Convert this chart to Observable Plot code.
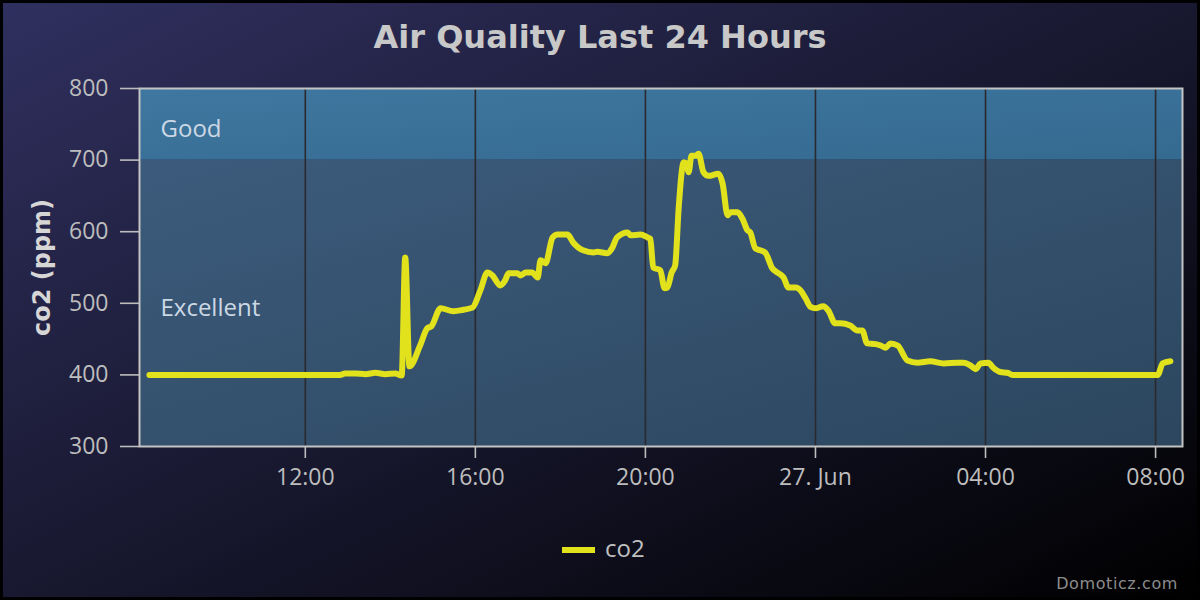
<!DOCTYPE html>
<html>
<head>
<meta charset="utf-8">
<script src="https://cdn.jsdelivr.net/npm/d3@7"></script>
<script src="https://cdn.jsdelivr.net/npm/@observablehq/plot@0.6"></script>
<style>
  html, body { margin: 0; padding: 0; background: #000; }
  #chart {
    position: relative; width: 1200px; height: 600px; overflow: hidden;
    background: linear-gradient(to bottom right, rgb(48,48,96), rgb(0,0,0));
    box-shadow: inset 0 0 0 3px #000;
  }
  #title {
    position: absolute; left: 0; top: 17px; width: 1200px; height: 40px; line-height: 40px;
    text-align: center; font-family: "DejaVu Sans", sans-serif; font-weight: bold; font-size: 32px;
    color: #c8c8c8;
  }
  #plot { position: absolute; left: 0; top: 70px; }
  #legend {
    position: absolute; left: 562px; top: 530px; height: 36px; line-height: 36px;
    font-family: "Open Sans", sans-serif; font-size: 24px; color: #c0c0c0; white-space: nowrap;
  }
  #legend .sw { display: inline-block; width: 33px; height: 6px; vertical-align: middle; margin-right: 10px; position: relative; top: -1px; }
  #credit {
    position: absolute; right: 22px; top: 572px; height: 24px; line-height: 24px;
    font-family: "DejaVu Sans", sans-serif; font-size: 16px; letter-spacing: 0.6px; color: #8c8c8c;
  }
</style>
</head>
<body>
<div id="chart">
  <div id="title"></div>
  <div id="plot"></div>
  <div id="legend"></div>
  <div id="credit"></div>
</div>
<script>
// ---- data ----
const titleText = "Air Quality Last 24 Hours";
const yLabel = "co2 (ppm)";
const seriesName = "co2";
const creditText = "Domoticz.com";
const lineColor = "#e1e11c";

const times = ["06-26 08:20","06-26 12:49","06-26 12:56","06-26 13:11","06-26 13:25","06-26 13:39","06-26 13:53","06-26 14:07","06-26 14:16","06-26 14:21","06-26 14:27","06-26 14:42","06-26 14:52","06-26 14:58","06-26 15:11","06-26 15:29","06-26 15:43","06-26 15:56","06-26 16:07","06-26 16:17","06-26 16:24","06-26 16:35","06-26 16:42","06-26 16:47","06-26 16:59","06-26 17:04","06-26 17:11","06-26 17:20","06-26 17:28","06-26 17:32","06-26 17:39","06-26 17:49","06-26 17:56","06-26 18:10","06-26 18:18","06-26 18:32","06-26 18:47","06-26 18:52","06-26 19:06","06-26 19:13","06-26 19:20","06-26 19:35","06-26 19:39","06-26 19:53","06-26 20:03","06-26 20:07","06-26 20:11","06-26 20:21","06-26 20:27","06-26 20:31","06-26 20:37","06-26 20:42","06-26 20:47","06-26 20:54","06-26 20:58","06-26 21:01","06-26 21:05","06-26 21:11","06-26 21:15","06-26 21:22","06-26 21:29","06-26 21:43","06-26 21:49","06-26 21:56","06-26 22:00","06-26 22:10","06-26 22:17","06-26 22:24","06-26 22:28","06-26 22:35","06-26 22:42","06-26 22:49","06-26 22:59","06-26 23:08","06-26 23:15","06-26 23:22","06-26 23:32","06-26 23:39","06-26 23:46","06-26 23:53","06-27 00:00","06-27 00:11","06-27 00:18","06-27 00:28","06-27 00:35","06-27 00:49","06-27 00:59","06-27 01:06","06-27 01:13","06-27 01:25","06-27 01:32","06-27 01:39","06-27 01:46","06-27 01:56","06-27 02:10","06-27 02:24","06-27 02:42","06-27 03:01","06-27 03:20","06-27 03:29","06-27 03:39","06-27 03:46","06-27 03:53","06-27 04:04","06-27 04:11","06-27 04:21","06-27 04:31","06-27 04:38","06-27 08:03","06-27 08:10","06-27 08:21"];
const co2 = [400,400,402,402,401,403,401,402,399,564,412,441,465,468,493,489,491,494,518,543,539,525,532,542,542,539,543,543,536,560,556,592,596,596,585,574,571,572,570,577,592,599,595,596,592,590,550,546,521,522,543,553,634,697,695,683,706,706,709,683,678,681,667,623,627,627,618,602,599,577,574,571,549,542,536,522,522,518,507,495,493,496,490,472,472,469,462,462,444,443,441,438,444,441,420,417,419,416,417,417,413,408,416,417,410,404,403,400,400,416,419];

const xDomainTimes = ["06-26 08:06","06-27 08:38"];
const xTickTimes = ["06-26 12:00","06-26 16:00","06-26 20:00","06-27 00:00","06-27 04:00","06-27 08:00"];
const xTickLabels = ["12:00","16:00","20:00","27. Jun","04:00","08:00"];
const yTicks = [300,400,500,600,700,800];
const yDomain = [300,800];

const bandNames = ["Excellent","Good"];
const bandLow = [300,700];
const bandHigh = [700,800];

// ---- build ----
const parse = d3.timeParse("%Y-%m-%d %H:%M");
const toDate = s => parse("2023-" + s);
const series = times.map((t,i) => ({t: toDate(t), v: co2[i]}));
const tickDates = xTickTimes.map(toDate);
const tickLabelMap = new Map(tickDates.map((d,i) => [+d, xTickLabels[i]]));
const bands = bandNames.map((n,i) => ({name: n, lo: bandLow[i], hi: bandHigh[i]}));

document.getElementById("title").textContent = titleText;
document.getElementById("credit").textContent = creditText;
const leg = document.getElementById("legend");
leg.innerHTML = `<span class="sw" style="background:${lineColor}"></span>`;
leg.appendChild(document.createTextNode(seriesName));

const svg = Plot.plot({
  width: 1200, height: 430,
  marginLeft: 139, marginRight: 18, marginTop: 18, marginBottom: 54,
  style: {background: "transparent", fontFamily: "Open Sans, sans-serif", fontSize: "23px", color: "#bdbdbd", overflow: "visible"},
  x: {type: "time", domain: xDomainTimes.map(toDate)},
  y: {domain: yDomain},
  marks: [
    Plot.rect([bands[0]], {y1: "lo", y2: "hi", fill: "url(#gExc)"}),
    Plot.rect([bands[1]], {y1: "lo", y2: "hi", fill: "url(#gGood)"}),
    Plot.ruleX(tickDates, {stroke: "#2a2a2e", strokeWidth: 1.6}),
    Plot.text(bands, {y: d => (d.lo + d.hi) / 2, text: "name", frameAnchor: "left", dx: 21, dy: 5, textAnchor: "start", fill: "#ccd8e4", fontSize: 24}),
    Plot.axisY({ticks: yTicks, tickSize: 19, tickPadding: 12, label: null, color: "#bdbdbd", fontSize: 23, strokeWidth: 1.6}),
    Plot.axisX({ticks: tickDates, tickFormat: d => tickLabelMap.get(+d), tickSize: 12, tickPadding: 10, label: null, color: "#bdbdbd", fontSize: 23, strokeWidth: 1.6}),
    Plot.frame({stroke: "#c4c4c4", strokeWidth: 2}),
    Plot.line(series, {x: "t", y: "v", stroke: lineColor, strokeWidth: 6, curve: "monotone-x", strokeLinejoin: "round", strokeLinecap: "round"}),
    Plot.text([yLabel], {frameAnchor: "left", dx: -97, rotate: -90, textAnchor: "middle", fontWeight: "bold", fontSize: 24, fontFamily: "DejaVu Sans, sans-serif", fill: "#d6d6d6"})
  ]
});

const defs = d3.select(svg).insert("defs", ":first-child");
const g1 = defs.append("linearGradient").attr("id", "gExc").attr("x1", 0).attr("y1", 0).attr("x2", 1).attr("y2", 1);
g1.append("stop").attr("offset", 0).attr("stop-color", "#3c5b7c");
g1.append("stop").attr("offset", 1).attr("stop-color", "#2c465e");
const g2 = defs.append("linearGradient").attr("id", "gGood").attr("x1", 0).attr("y1", 0).attr("x2", 1).attr("y2", 1);
g2.append("stop").attr("offset", 0).attr("stop-color", "#3f77a0");
g2.append("stop").attr("offset", 1).attr("stop-color", "#356a90");

document.getElementById("plot").appendChild(svg);
</script>
</body>
</html>
